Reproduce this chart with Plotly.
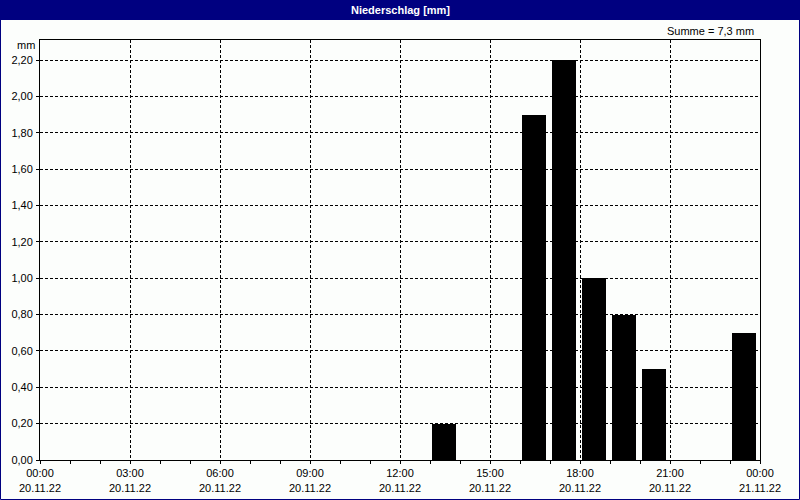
import plotly.graph_objects as go

# Data
bar_times = ["2022-11-20 13:28", "2022-11-20 16:28", "2022-11-20 17:28",
             "2022-11-20 18:28", "2022-11-20 19:28", "2022-11-20 20:28",
             "2022-11-20 23:28"]
bar_values = [0.2, 1.9, 2.2, 1.0, 0.8, 0.5, 0.7]
x_tickvals = ["2022-11-20 00:00", "2022-11-20 03:00", "2022-11-20 06:00",
              "2022-11-20 09:00", "2022-11-20 12:00", "2022-11-20 15:00",
              "2022-11-20 18:00", "2022-11-20 21:00", "2022-11-21 00:00"]
x_ticktext = ["00:00<br>20.11.22", "03:00<br>20.11.22", "06:00<br>20.11.22",
              "09:00<br>20.11.22", "12:00<br>20.11.22", "15:00<br>20.11.22",
              "18:00<br>20.11.22", "21:00<br>20.11.22", "00:00<br>21.11.22"]
title_text = "Niederschlag [mm]"
sum_text = "Summe = 7,3 mm"
unit_text = "mm"

W, H = 800, 500
L, R, T, B = 40, 40, 40, 40
pw, ph = W - L - R, H - T - B
bg = "#fcfefc"
navy = "#000080"
font_family = "Liberation Sans, Arial, sans-serif"


def px_x(x):
    return (x - L) / pw


def px_y(y):
    return (H - B - y) / ph


fig = go.Figure()
fig.add_trace(go.Bar(
    x=bar_times, y=bar_values, width=48 * 60 * 1000,
    marker=dict(color="#000000", line=dict(width=0)),
    hoverinfo="x+y",
))

axis_common = dict(
    showline=True, linecolor="black", linewidth=1, mirror=True,
    ticks="outside", ticklen=3, tickcolor="black", tickwidth=1,
    showgrid=True, gridcolor="black", gridwidth=1, griddash="3px,2px",
    zeroline=False, automargin=False,
    tickfont=dict(family=font_family, size=11, color="black"),
)

fig.update_layout(
    width=W, height=H,
    margin=dict(l=L, r=R, t=T, b=B, autoexpand=False),
    paper_bgcolor=bg, plot_bgcolor=bg,
    separators=",.",
    showlegend=False,
    bargap=0,
    xaxis=dict(
        type="date",
        range=["2022-11-20 00:00", "2022-11-21 00:00"],
        tickmode="array", tickvals=x_tickvals, ticktext=x_ticktext,
        minor=dict(tick0="2022-11-20 00:00", dtick=3600000, ticks="outside",
                   ticklen=3, tickcolor="black", showgrid=False),
        ticklabelstandoff=0,
        **axis_common,
    ),
    yaxis=dict(
        range=[0, 2.31], dtick=0.2, tick0=0, tickformat=".2f",
        ticklabelstandoff=1,
        **axis_common,
    ),
    shapes=[
        dict(type="rect", xref="paper", yref="paper",
             x0=px_x(0), x1=px_x(W), y0=px_y(20), y1=px_y(0),
             fillcolor=navy, line=dict(width=0), layer="below"),
        dict(type="rect", xref="paper", yref="paper",
             x0=px_x(0.5), x1=px_x(W - 0.5), y0=px_y(H - 0.5), y1=px_y(0.5),
             fillcolor="rgba(0,0,0,0)", line=dict(color=navy, width=1)),
    ],
    annotations=[
        dict(text="<b>" + title_text + "</b>", xref="paper", yref="paper",
             x=px_x(400), y=px_y(10), xanchor="center", yanchor="middle",
             showarrow=False, font=dict(family=font_family, size=11, color="white")),
        dict(text=sum_text, xref="paper", yref="paper",
             x=px_x(756), y=px_y(31), xanchor="right", yanchor="middle",
             showarrow=False, font=dict(family=font_family, size=11, color="black")),
        dict(text=unit_text, xref="paper", yref="paper",
             x=px_x(37), y=px_y(45), xanchor="right", yanchor="middle",
             showarrow=False, font=dict(family=font_family, size=11, color="black")),
    ],
)

fig.write_html("out.html", config={"displayModeBar": False},
               post_script="document.body.style.margin='0';document.body.style.overflow='hidden';")
